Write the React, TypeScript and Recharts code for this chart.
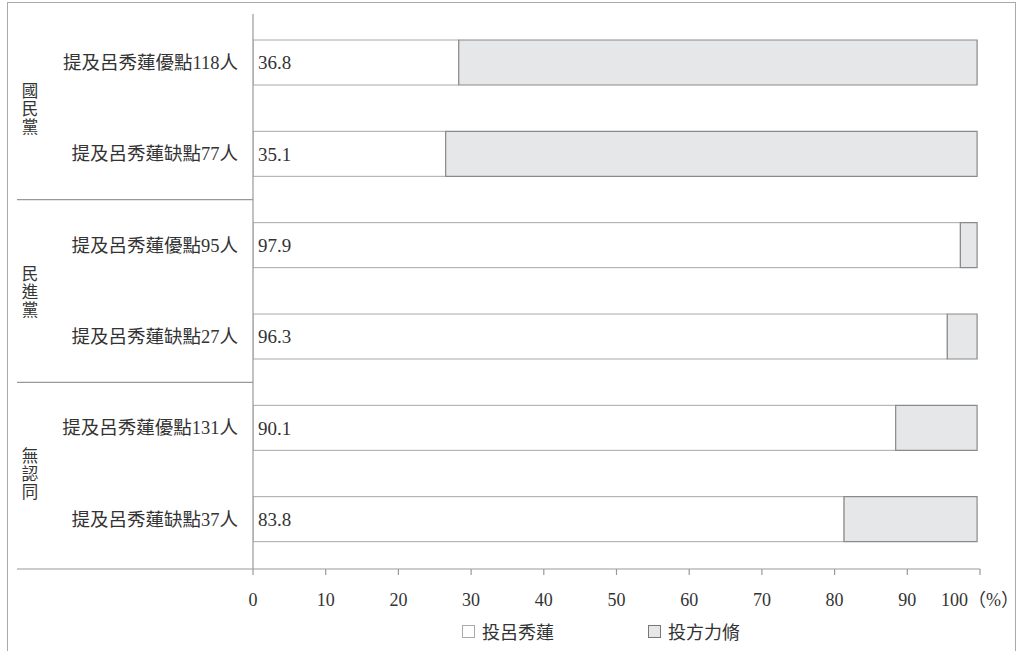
import React from 'react';
import { BarChart, Bar, XAxis, YAxis, LabelList } from 'recharts';

const categories = [
  '提及呂秀蓮優點118人',
  '提及呂秀蓮缺點77人',
  '提及呂秀蓮優點95人',
  '提及呂秀蓮缺點27人',
  '提及呂秀蓮優點131人',
  '提及呂秀蓮缺點37人',
];
const groups = ['國民黨', '民進黨', '無認同'];
const voteLu = [28.3, 26.5, 97.3, 95.5, 88.4, 81.3];
const voteFang = [71.3, 73.1, 2.3, 4.1, 11.2, 18.3];
const valueLabels = ['36.8', '35.1', '97.9', '96.3', '90.1', '83.8'];
const xTicks = [0, 10, 20, 30, 40, 50, 60, 70, 80, 90, 100];
const seriesNames = ['投呂秀蓮', '投方力脩'];
const seriesFills = ['#ffffff', '#e6e7e9'];
const seriesStrokes = ['#a8a8a8', '#8a8a8a'];

const data = categories.map((c, i) => ({
  name: c,
  lu: voteLu[i],
  fang: voteFang[i],
  label: valueLabels[i],
}));

const W = 1019;
const H = 651;
const XH = 40;
const margin = { top: 14, right: 39, bottom: 42, left: 0 };
const padY = { top: 3, bottom: 4 };
const YW = 253;
const axisY = H - margin.bottom - XH;
const band = (axisY - margin.top - padY.top - padY.bottom) / categories.length;

const FONT = '"Liberation Serif", "Noto Sans CJK TC", serif';
const CJK = '"Noto Sans CJK TC", sans-serif';
const TXT = '#333';
const LINE = '#999';

const YTick = (props: any) => {
  const { x, y, payload, index } = props;
  const gi = Math.floor(index / 2);
  return (
    <g>
      <text x={x} y={y} dy="0.35em" textAnchor="end" fontSize={18.5} fill={TXT} fontFamily={FONT}>
        {payload.value}
      </text>
      {index % 2 === 1 && index < categories.length - 1 && (
        <line x1={17} x2={YW} y1={y + band / 2} y2={y + band / 2} stroke={LINE} strokeWidth={1.2} />
      )}
      {index % 2 === 0 && (
        <text
          x={30}
          y={y + band / 2 + 1}
          textAnchor="middle"
          fontSize={16.5}
          letterSpacing={1.5}
          fill={TXT}
          fontFamily={CJK}
          style={{ writingMode: 'vertical-rl' } as any}
        >
          {groups[gi]}
        </text>
      )}
    </g>
  );
};

const XTick = (props: any) => {
  const { x, y, payload, index } = props;
  return (
    <g>
      {index === 0 && (
        <line x1={17} x2={x} y1={axisY} y2={axisY} stroke={LINE} strokeWidth={1.2} />
      )}
      <text x={x} y={y} dy="0.71em" textAnchor="middle" fontSize={18} fill={TXT} fontFamily={FONT}>
        {payload.value === 100 ? '100（%）' : payload.value}
      </text>
    </g>
  );
};

const legendPos = [462, 648];

export default function App() {
  return (
    <div
      style={{
        position: 'absolute',
        left: 0,
        top: 0,
        width: W,
        height: H,
        overflow: 'hidden',
        background: '#fff',
      }}
    >
      <div
        style={{
          position: 'absolute',
          left: 7,
          top: 2,
          width: 1009,
          height: 720,
          border: '1px solid #aaa',
          boxSizing: 'border-box',
        }}
      />
      <div style={{ position: 'absolute', left: 0, top: 0 }}>
        <BarChart width={W} height={H} data={data} layout="vertical" margin={margin} barSize={45}>
          <XAxis
            type="number"
            domain={[0, 100]}
            ticks={xTicks}
            interval={0}
            height={XH}
            stroke={LINE}
            axisLine={{ stroke: LINE, strokeWidth: 1.2 }}
            tickLine={{ stroke: LINE, strokeWidth: 1.2 }}
            tickSize={6}
            tickMargin={18}
            tick={<XTick />}
            allowDataOverflow
          />
          <YAxis
            type="category"
            dataKey="name"
            width={YW}
            padding={padY}
            axisLine={{ stroke: LINE, strokeWidth: 1.2 }}
            tickLine={false}
            tickSize={0}
            tickMargin={15}
            interval={0}
            tick={<YTick />}
          />
          <Bar
            dataKey="lu"
            name={seriesNames[0]}
            stackId="a"
            fill={seriesFills[0]}
            stroke={seriesStrokes[0]}
            strokeWidth={1}
            isAnimationActive={false}
          >
            <LabelList
              dataKey="label"
              position="insideLeft"
              offset={5}
              fill={TXT}
              fontSize={19}
              fontFamily={FONT}
            />
          </Bar>
          <Bar
            dataKey="fang"
            name={seriesNames[1]}
            stackId="a"
            fill={seriesFills[1]}
            stroke={seriesStrokes[1]}
            strokeWidth={1.2}
            isAnimationActive={false}
          />
        </BarChart>
      </div>
      {seriesNames.map((n, i) => (
        <div
          key={i}
          style={{
            position: 'absolute',
            left: legendPos[i],
            top: 619,
            height: 24,
            display: 'flex',
            alignItems: 'center',
            fontFamily: CJK,
            fontSize: 18,
            color: TXT,
          }}
        >
          <svg width={13} height={13} style={{ marginRight: 7 }}>
            <rect
              x={0.5}
              y={0.5}
              width={12}
              height={12}
              fill={seriesFills[i]}
              stroke={i === 0 ? '#aaa' : '#777'}
            />
          </svg>
          <span>{n}</span>
        </div>
      ))}
    </div>
  );
}
